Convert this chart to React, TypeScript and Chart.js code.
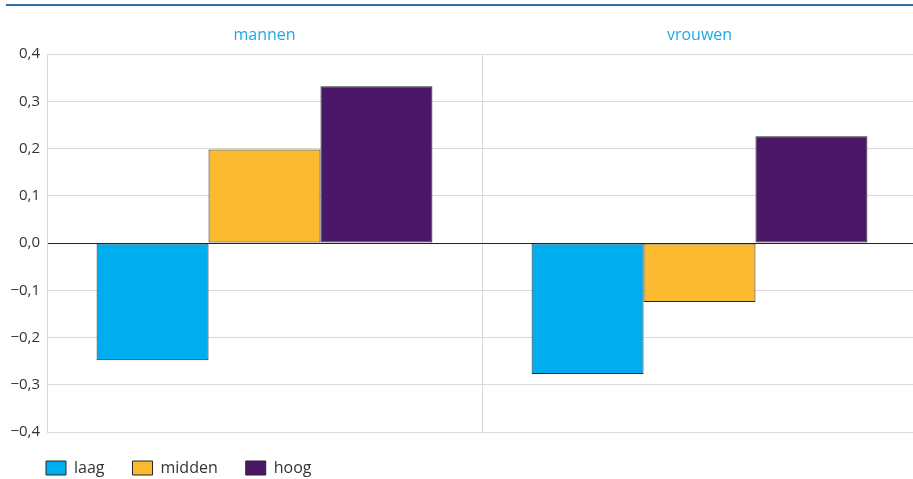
import React, { useEffect, useRef } from "react";
import { Chart, registerables } from "chart.js";

Chart.register(...registerables);

const categories = ["mannen", "vrouwen"];
const seriesNames = ["laag", "midden", "hoog"];
const laag = [-0.248, -0.277];
const midden = [0.198, -0.125];
const hoog = [0.332, 0.226];
const seriesColors = ["#00aeef", "#fbba30", "#4b1868"];
const yTicks = [-0.4, -0.3, -0.2, -0.1, 0, 0.1, 0.2, 0.3, 0.4];

const FONT = "'Open Sans', 'Noto Sans', sans-serif";

const topLinePlugin = {
  id: "topLine",
  beforeDraw(chart: any) {
    const ctx = chart.ctx;
    ctx.save();
    ctx.fillStyle = "#ffffff";
    ctx.fillRect(0, 0, chart.width, chart.height);
    ctx.fillStyle = "#2d6ea6";
    ctx.fillRect(6, 4, chart.width - 6, 2);
    ctx.restore();
  },
};

const legendShiftPlugin = {
  id: "legendShift",
  afterLayout(chart: any) {
    const lg = chart.legend;
    if (lg) {
      lg.left += 13;
      lg.right += 13;
    }
  },
};

function fmt(v: number) {
  const r = Math.round(v * 10) / 10;
  const s = Math.abs(r).toFixed(1).replace(".", ",");
  return r < 0 ? "\u2212" + s : s;
}

export default function App() {
  const ref = useRef<HTMLCanvasElement | null>(null);

  useEffect(() => {
    document.body.style.margin = "0";
    document.body.style.overflow = "hidden";
    document.documentElement.style.overflow = "hidden";
    const values = [laag, midden, hoog];
    const chart = new Chart(ref.current as HTMLCanvasElement, {
      type: "bar",
      data: {
        labels: categories,
        datasets: seriesNames.map((name, i) => ({
          label: name,
          data: values[i],
          backgroundColor: seriesColors[i],
          borderColor: "#262626",
          borderWidth: 1,
          borderSkipped: false,
          categoryPercentage: 0.772,
          barPercentage: 1,
        })),
      },
      options: {
        animation: false,
        responsive: false,
        devicePixelRatio: 1,
        layout: { padding: { left: 5, right: 0, top: 10, bottom: -7 } },
        plugins: {
          tooltip: { enabled: false },
          legend: {
            position: "bottom",
            align: "start",
            labels: {
              boxWidth: 20,
              boxHeight: 14,
              padding: 28,
              color: "#333333",
              font: { family: FONT, size: 16 },
            },
          },
        },
        scales: {
          x: {
            position: "top",
            offset: true,
            grid: {
              display: true,
              offset: true,
              drawTicks: false,
              color: (c: any) => (c.index === 2 ? "rgba(0,0,0,0)" : "#d9d9d9"),
            },
            border: { display: false },
            ticks: {
              color: "#1fa9e6",
              padding: 9,
              font: { family: FONT, size: 16 },
            },
            afterFit: (s: any) => {
              s.height = 44;
            },
          },
          y: {
            min: -0.4,
            max: 0.4,
            afterBuildTicks: (s: any) => {
              s.ticks = yTicks.map((v) => ({ value: v }));
            },
            grid: {
              drawTicks: false,
              color: (c: any) =>
                c.tick && Math.abs(c.tick.value) < 1e-9 ? "#222222" : "#d9d9d9",
            },
            border: { display: true, color: "#d9d9d9" },
            ticks: {
              color: "#333333",
              padding: 7,
              font: { family: FONT, size: 15 },
              callback: (v: any) => fmt(Number(v)),
            },
            afterFit: (s: any) => {
              s.width = 42;
            },
          },
        },
      },
      plugins: [topLinePlugin, legendShiftPlugin],
    });
    return () => chart.destroy();
  }, []);

  return <canvas ref={ref} width={917} height={479} style={{ display: "block" }} />;
}
